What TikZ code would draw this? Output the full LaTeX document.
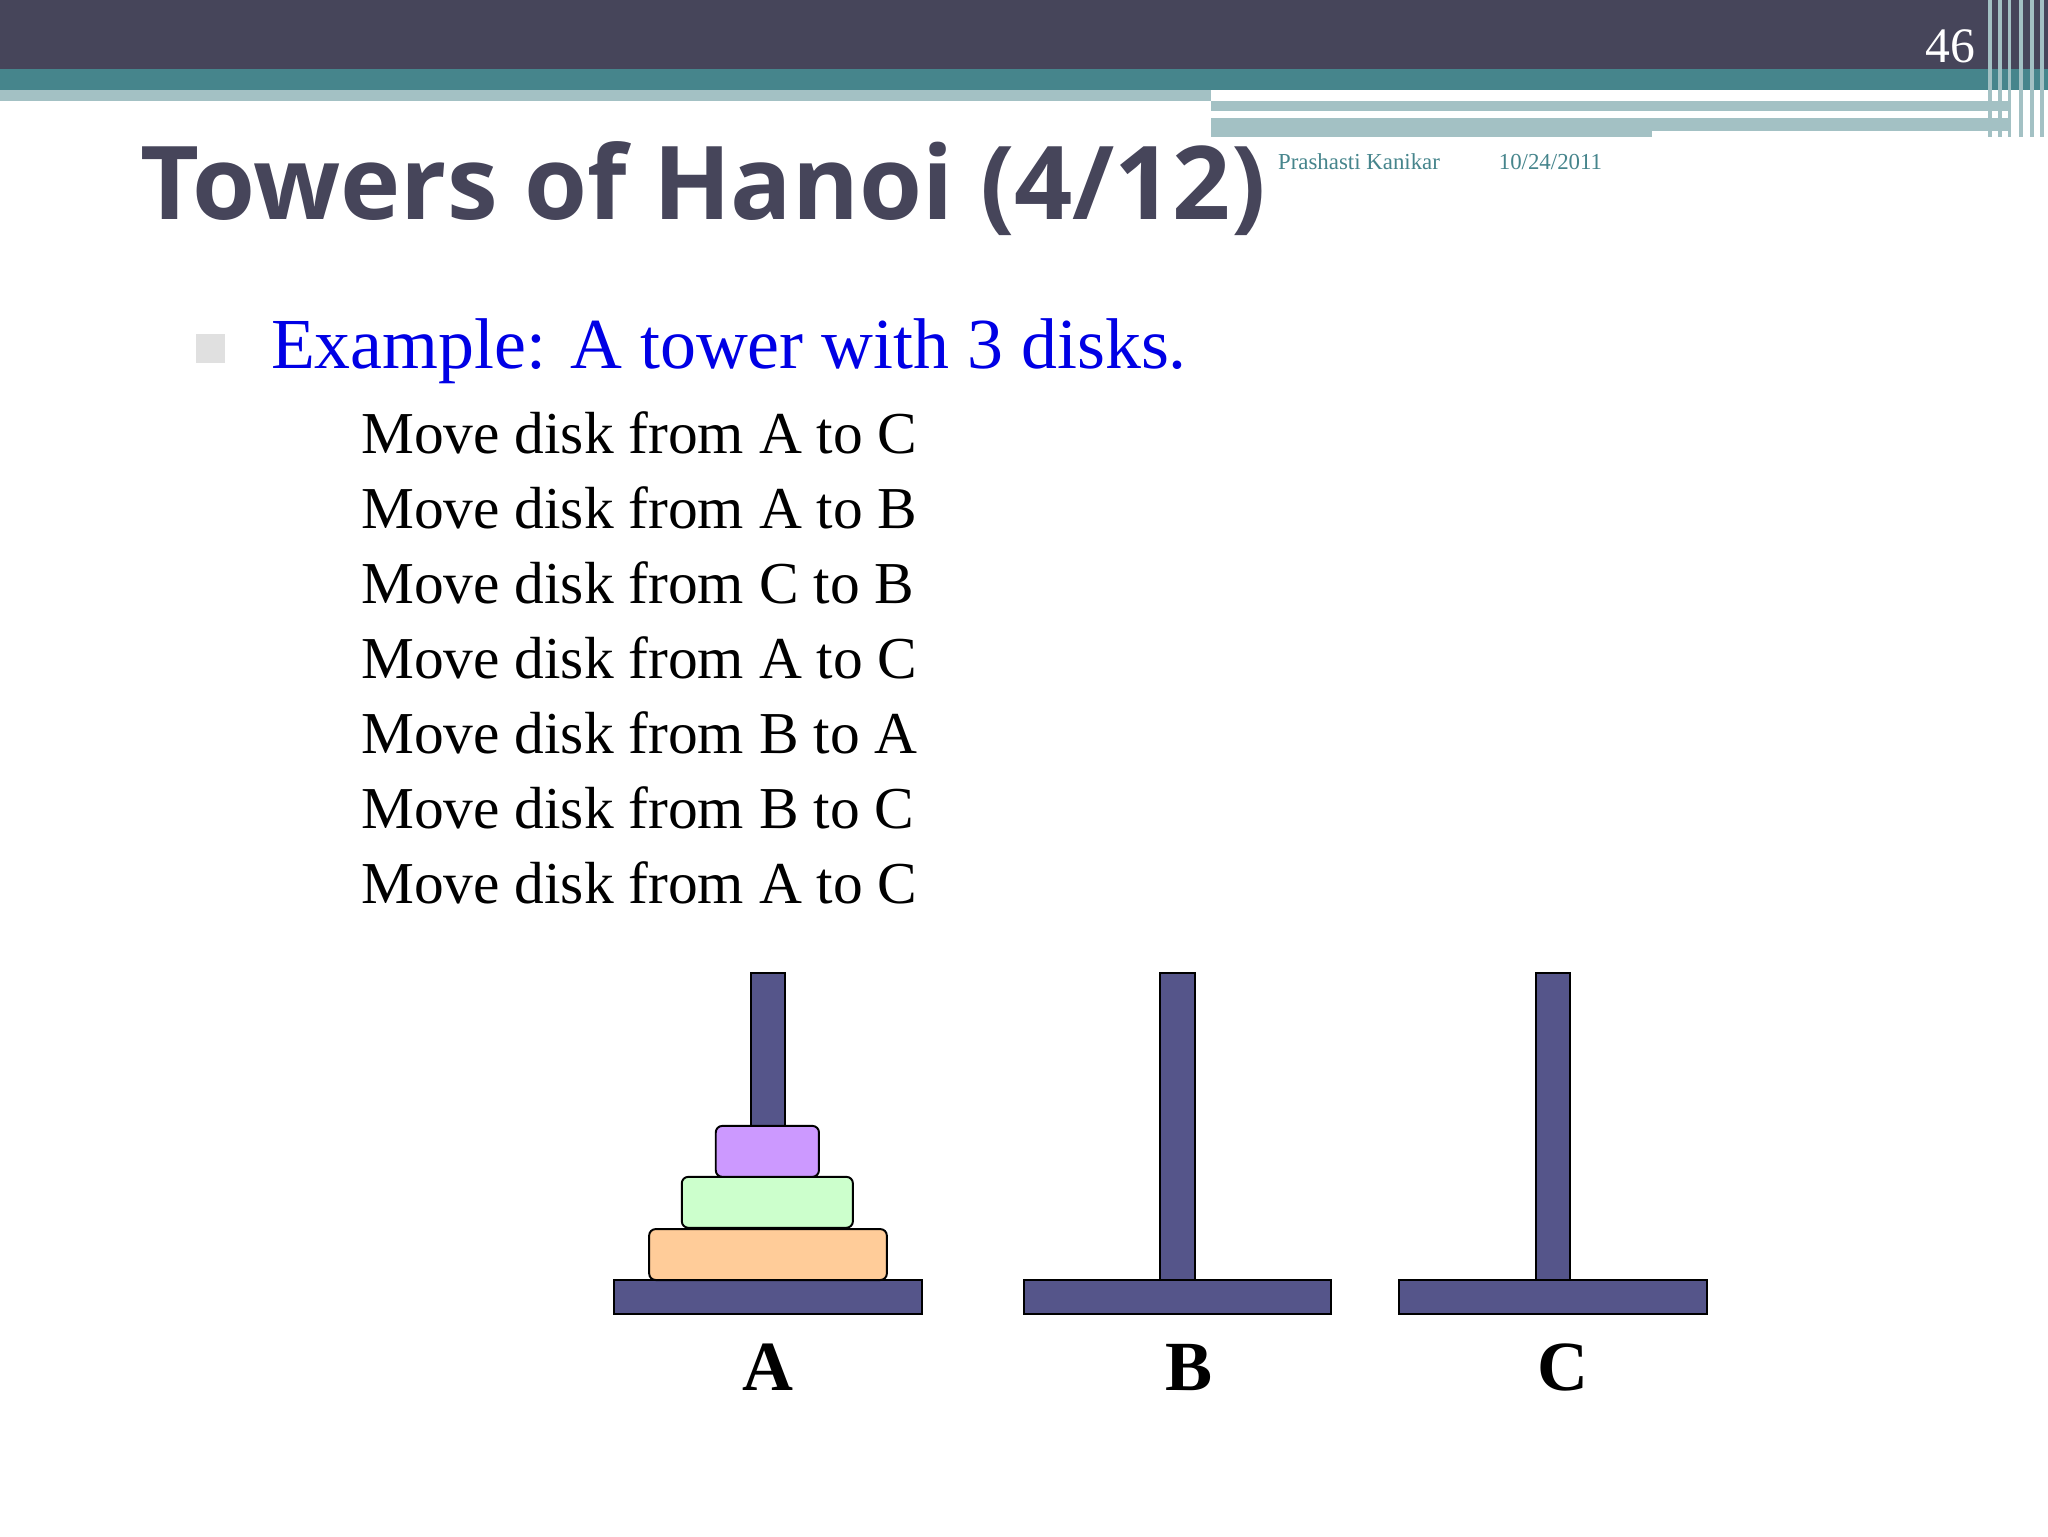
\documentclass[tikz,border=0pt]{standalone}
\usepackage{fontspec}
\setmainfont{Liberation Serif}
\newfontfamily\titlefont{Open Sans}
\definecolor{darkbar}{HTML}{46455A}
\definecolor{teal1}{HTML}{46858C}
\definecolor{teal2}{HTML}{A3C1C4}
\definecolor{pole}{HTML}{55558A}
\definecolor{dpurple}{HTML}{CC99FF}
\definecolor{dgreen}{HTML}{CCFFCC}
\definecolor{dorange}{HTML}{FFCC99}
\tikzset{x=1pt,y=-1pt,
 peg/.style={draw=black,fill=pole,line width=1.5pt},
 disk/.style={draw=black,line width=1.5pt,rounded corners=5pt},
 move/.style={anchor=base west,font=\fontsize{45.5}{50}\selectfont},
 lab/.style={font=\fontsize{54}{60}\selectfont\bfseries}}
\begin{document}
\begin{tikzpicture}
\useasboundingbox (0,0) rectangle (1568,1176);
\fill[white] (0,0) rectangle (1568,1176);
\fill[darkbar] (0,0) rectangle (1568,53);
\fill[teal1] (0,53) rectangle (1568,69);
\fill[teal2] (0,69) rectangle (927,77);
\fill[teal2] (927,77) rectangle (1540,85);
\fill[teal2] (927,90) rectangle (1540,105);
\fill[white] (927,86) rectangle (1452,90);
\fill[white] (1265,100) rectangle (1540,105);
\foreach \xx in {1522,1530,1537,1546,1554,1562}
  \fill[teal2] (\xx,0) rectangle (\xx+3,105);
\node[anchor=base east,text=white,font=\fontsize{38}{40}\selectfont] (pg) at (1516,48) {46};
\node[anchor=base west,text=darkbar,font=\titlefont\bfseries\fontsize{78}{90}\selectfont] (title) at (104,168) {Towers of Hanoi (4/12)};
\node[anchor=base west,text=teal1,font=\fontsize{17.5}{18}\selectfont] (auth) at (975,130) {Prashasti Kanikar};
\node[anchor=base west,text=teal1,font=\fontsize{17.5}{18}\selectfont] (date) at (1144,130) {10/24/2011};
\fill[black!12] (150,256) rectangle (172,278) ;
\node[anchor=base west,text=blue!90!black,font=\fontsize{55}{60}\selectfont] (ex) at (204,282) {Example: A tower with 3 disks.};
\foreach \t [count=\i from 0] in {A to C,A to B,C to B,A to C,B to A,B to C,A to C}
  \node[move] (m\i) at (273,347+57.5*\i) {Move disk from \t};
% pegs
\draw[peg] (470,980) rectangle (706,1006);
\draw[peg] (575,745) rectangle (601,980);
\draw[peg] (784,980) rectangle (1019,1006);
\draw[peg] (888,745) rectangle (915,980);
\draw[peg] (1071,980) rectangle (1307,1006);
\draw[peg] (1176,745) rectangle (1202,980);
\draw[disk,fill=dorange] (497,941) rectangle (679,980);
\draw[disk,fill=dgreen] (522,901) rectangle (653,940);
\draw[disk,fill=dpurple] (548,862) rectangle (627,901);
\node[lab] (la) at (588,1047) {A};
\node[lab] (lb) at (910,1047) {B};
\node[lab] (lc) at (1197,1047) {C};
\end{tikzpicture}
\end{document}
